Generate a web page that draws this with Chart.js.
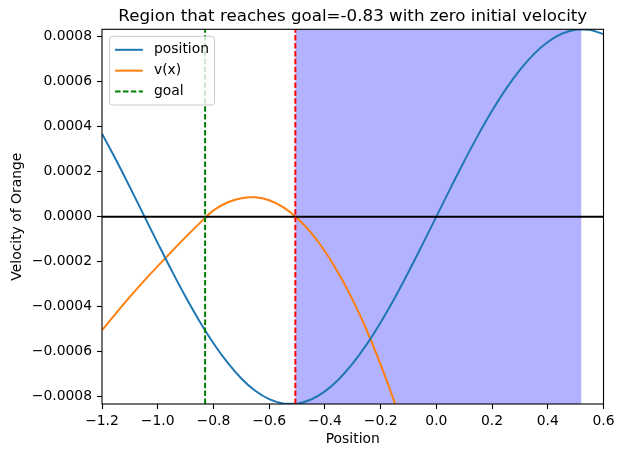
<!DOCTYPE html>
<html>
<head>
<meta charset="utf-8">
<script src="https://cdn.jsdelivr.net/npm/chart.js@4/dist/chart.umd.min.js"></script>
<style>
  html, body { margin: 0; padding: 0; background: #ffffff; }
  canvas { display: block; }
</style>
</head>
<body>
<canvas id="chart" width="619" height="450"></canvas>
<script>
// Height profile of the track ("position" curve)
const positionX = [-1.20, -1.15, -1.10, -1.05, -1.00, -0.95, -0.90, -0.85, -0.80, -0.75,
                   -0.70, -0.65, -0.60, -0.55, -0.50, -0.45, -0.40, -0.35, -0.30, -0.25,
                   -0.20, -0.15, -0.10, -0.05, 0.00, 0.05, 0.10, 0.15, 0.20, 0.25,
                   0.30, 0.35, 0.40, 0.45, 0.50, 0.55, 0.60];
const positionY = [0.0003688, 0.0002529, 0.0001314, 0.0000070, -0.0001176, -0.0002396, -0.0003562, -0.0004648, -0.0005629, -0.0006484,
                   -0.0007193, -0.0007742, -0.0008115, -0.0008308, -0.0008313, -0.0008131, -0.0007767, -0.0007228, -0.0006528, -0.0005680,
                   -0.0004705, -0.0003625, -0.0002463, -0.0001245, 0.0000000, 0.0001245, 0.0002463, 0.0003625, 0.0004705, 0.0005680,
                   0.0006528, 0.0007228, 0.0007767, 0.0008131, 0.0008313, 0.0008308, 0.0008115];

// Velocity as a function of position
const velocityX = [-1.20, -1.15, -1.10, -1.05, -1.00, -0.95, -0.90, -0.85, -0.80, -0.75,
                   -0.70, -0.65, -0.60, -0.55, -0.50, -0.45, -0.40, -0.35, -0.30, -0.25,
                   -0.20, -0.15, -0.10];
const velocityY = [-0.000505, -0.000430, -0.000357, -0.000287, -0.000220, -0.000155, -0.000091, -0.000030, 0.000028, 0.000063,
                   0.000082, 0.000086, 0.000073, 0.000042, -0.000006, -0.000071, -0.000154, -0.000254, -0.000371, -0.000505,
                   -0.000657, -0.000826, -0.001012];

const goal = -0.83;
const boundary = -0.506;
const regionEnd = 0.52;

const xLimits = [-1.2, 0.6];
const yLimits = [-0.000833, 0.000833];
const xTicks = [-1.2, -1.0, -0.8, -0.6, -0.4, -0.2, 0.0, 0.2, 0.4, 0.6];
const yTicks = [-0.0008, -0.0006, -0.0004, -0.0002, 0.0, 0.0002, 0.0004, 0.0006, 0.0008];

const titleText = 'Region that reaches goal=-0.83 with zero initial velocity';
const xLabel = 'Position';
const yLabel = 'Velocity of Orange';

const FONT = '"DejaVu Sans", sans-serif';
const tickFontSize = 13.9;
const titleFontSize = 16.7;

function zip(xs, ys) {
  return xs.map((x, i) => ({ x: x, y: ys[i] }));
}
function minusSign(s) {
  return s.replace('-', '\u2212');
}

// Shaded interval behind the curves
const regionShade = {
  id: 'regionShade',
  beforeDatasetsDraw(chart) {
    const { ctx, chartArea, scales } = chart;
    const x0 = scales.x.getPixelForValue(boundary);
    const x1 = scales.x.getPixelForValue(regionEnd);
    ctx.save();
    ctx.fillStyle = 'rgba(0, 0, 255, 0.3)';
    ctx.fillRect(x0, chartArea.top, x1 - x0, chartArea.bottom - chartArea.top);
    ctx.restore();
  }
};

// Frame, legend box and text labels
const decorations = {
  id: 'decorations',
  beforeDraw(chart) {
    const ctx = chart.ctx;
    ctx.save();
    ctx.fillStyle = '#ffffff';
    ctx.fillRect(0, 0, chart.width, chart.height);
    ctx.restore();
  },
  afterDatasetsDraw(chart) {
    const { ctx, chartArea } = chart;
    ctx.save();
    // axes frame
    ctx.strokeStyle = '#000000';
    ctx.lineWidth = 1.1;
    ctx.strokeRect(chartArea.left, chartArea.top,
                   chartArea.right - chartArea.left, chartArea.bottom - chartArea.top);

    // legend
    const entries = chart.data.datasets.filter(d => d.inLegend);
    ctx.font = tickFontSize + 'px ' + FONT;
    const fs = tickFontSize;
    const pad = 0.4 * fs, handleLen = 2.0 * fs, textPad = 0.8 * fs, rowGap = 0.5 * fs;
    let maxW = 0;
    entries.forEach(e => { maxW = Math.max(maxW, ctx.measureText(e.label).width); });
    const bx = chartArea.left + 7.5, by = chartArea.top + 7;
    const bw = pad * 2 + handleLen + textPad + maxW;
    const bh = pad * 2 + entries.length * fs + (entries.length - 1) * rowGap + 2;
    ctx.beginPath();
    ctx.roundRect(bx, by, bw, bh, 3);
    ctx.fillStyle = 'rgba(255, 255, 255, 0.8)';
    ctx.fill();
    ctx.strokeStyle = '#cccccc';
    ctx.lineWidth = 1;
    ctx.stroke();
    entries.forEach((e, i) => {
      const cy = by + pad + 1 + fs / 2 + i * (fs + rowGap);
      ctx.beginPath();
      ctx.setLineDash(e.borderDash || []);
      ctx.strokeStyle = e.borderColor;
      ctx.lineWidth = e.borderWidth;
      ctx.moveTo(bx + pad, cy);
      ctx.lineTo(bx + pad + handleLen, cy);
      ctx.stroke();
      ctx.setLineDash([]);
      ctx.fillStyle = '#000000';
      ctx.textBaseline = 'middle';
      ctx.textAlign = 'left';
      ctx.fillText(e.label, bx + pad + handleLen + textPad, cy);
    });
    ctx.restore();
  },
  afterDraw(chart) {
    const { ctx, chartArea } = chart;
    const cx = (chartArea.left + chartArea.right) / 2;
    const cy = (chartArea.top + chartArea.bottom) / 2;
    ctx.save();
    ctx.fillStyle = '#000000';
    ctx.textAlign = 'center';
    ctx.textBaseline = 'alphabetic';
    ctx.font = titleFontSize + 'px ' + FONT;
    ctx.fillText(titleText, cx, chartArea.top - 8.3);

    ctx.font = tickFontSize + 'px ' + FONT;
    ctx.textBaseline = 'middle';
    ctx.fillText(xLabel, cx, 439);

    ctx.translate(17.5, cy);
    ctx.rotate(-Math.PI / 2);
    ctx.fillText(yLabel, 0, 0);
    ctx.restore();
  }
};

const dash = [5.5, 2.4];

new Chart(document.getElementById('chart'), {
  type: 'line',
  data: {
    datasets: [
      { label: 'position', data: zip(positionX, positionY), borderColor: '#1f77b4',
        borderWidth: 2, pointRadius: 0, tension: 0.4, inLegend: true, order: 2 },
      { label: 'v(x)', data: zip(velocityX, velocityY), borderColor: '#ff7f0e',
        borderWidth: 2, pointRadius: 0, tension: 0.4, inLegend: true, order: 3 },
      { label: 'goal', data: [{ x: goal, y: yLimits[0] }, { x: goal, y: yLimits[1] }],
        borderColor: '#008000', borderWidth: 2, borderDash: dash, pointRadius: 0,
        inLegend: true, order: 1 },
      { label: 'boundary', data: [{ x: boundary, y: yLimits[0] }, { x: boundary, y: yLimits[1] }],
        borderColor: '#ff0000', borderWidth: 2, borderDash: dash, pointRadius: 0, order: 0 },
      { label: 'zero', data: [{ x: xLimits[0], y: 0 }, { x: xLimits[1], y: 0 }],
        borderColor: '#000000', borderWidth: 2, pointRadius: 0, order: 1.5 }
    ]
  },
  options: {
    responsive: false,
    animation: false,
    devicePixelRatio: 1,
    layout: { padding: { left: 0, right: 15.5, top: 29.3, bottom: 0 } },
    plugins: {
      legend: { display: false },
      tooltip: { enabled: false },
      title: { display: false }
    },
    scales: {
      x: {
        type: 'linear',
        min: xLimits[0],
        max: xLimits[1],
        afterBuildTicks: s => { s.ticks = xTicks.map(v => ({ value: v })); },
        afterFit: s => { s.height = 46; },
        ticks: {
          autoSkip: false, maxRotation: 0, color: '#000000', padding: 4,
          font: { family: FONT, size: tickFontSize },
          callback: v => minusSign(Number(v).toFixed(1))
        },
        grid: { display: true, drawOnChartArea: false, drawTicks: true, tickLength: 5,
                tickColor: '#000000', tickWidth: 1.1 },
        border: { display: false }
      },
      y: {
        type: 'linear',
        min: yLimits[0],
        max: yLimits[1],
        afterBuildTicks: s => { s.ticks = yTicks.map(v => ({ value: v })); },
        afterFit: s => { s.width = 102; },
        ticks: {
          autoSkip: false, color: '#000000', padding: 5,
          font: { family: FONT, size: tickFontSize },
          callback: v => minusSign(Number(v).toFixed(4))
        },
        grid: { display: true, drawOnChartArea: false, drawTicks: true, tickLength: 5,
                tickColor: '#000000', tickWidth: 1.1 },
        border: { display: false }
      }
    }
  },
  plugins: [regionShade, decorations]
});
</script>
</body>
</html>
